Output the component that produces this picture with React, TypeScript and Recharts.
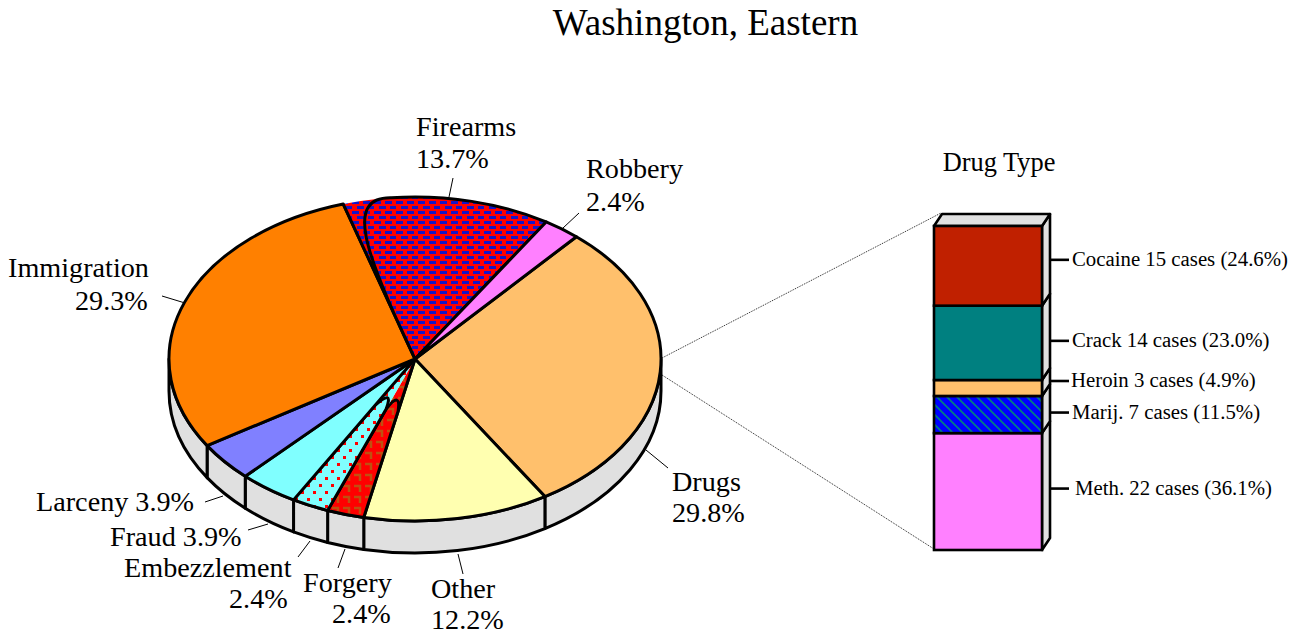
import { PieChart, Pie, BarChart, Bar, XAxis, YAxis } from "recharts";

const W = 1298;
const H = 633;
const SERIF = "'Liberation Serif', serif";

// offense breakdown in cases (205 total), clockwise from the 49 degree mark
const offenses = ["Drugs", "Other", "Forgery", "Embezzlement", "Fraud", "Larceny", "Immigration", "Firearms", "Robbery"];
const offenseCases = [61, 25, 5, 5, 8, 8, 60, 28, 5];
const offenseFill = ["#ffc06c", "#ffffb0", "url(#pForgery)", "url(#pEmbezzle)", "#80ffff", "#8080ff", "#ff8000", "url(#pFirearms)", "#ff80ff"];

// drug stack, bottom to top
const drugs = ["Meth.", "Marij.", "Heroin", "Crack", "Cocaine"];
const drugCases = [22, 7, 3, 14, 15];
const drugPct = ["36.1", "11.5", "4.9", "23.0", "24.6"];
const drugFill = ["#ff80ff", "url(#pMarij)", "#ffc06c", "#008080", "#c02000"];

const pieData = offenses.map((name, i) => ({ name, value: offenseCases[i], fill: offenseFill[i] }));
const barRow = [Object.fromEntries(drugs.map((d, i) => [d, drugCases[i]]))];

const RX = 246;
const RY = 162;
const DEPTH = 32;
const BAR_DX = 8;
const BAR_DY = 12;

// where each pie label sits: text lines [string, x, baseline], then the leader line
const pieLabels: Record<string, { lines: [string, number, number][]; lead: number[] }> = {
  Drugs: { lines: [["Drugs", 672, 491], ["29.8%", 672, 522]], lead: [646, 450, 668, 468] },
  Other: { lines: [["Other", 431, 598], ["12.2%", 431, 629]], lead: [458, 554, 463, 574] },
  Forgery: { lines: [["Forgery", 303, 592], ["2.4%", 332, 623]], lead: [345, 549, 338, 568] },
  Embezzlement: { lines: [["Embezzlement", 124, 577], ["2.4%", 229, 608]], lead: [310, 541, 298, 557] },
  Fraud: { lines: [["Fraud 3.9%", 110, 546]], lead: [268, 524, 248, 530] },
  Larceny: { lines: [["Larceny 3.9%", 36, 511]], lead: [223, 496, 205, 502] },
  Immigration: { lines: [["Immigration", 8, 277], ["29.3%", 75, 310]], lead: [185, 303, 162, 296] },
  Firearms: { lines: [["Firearms", 416, 136], ["13.7%", 416, 168]], lead: [449, 197, 453, 178] },
  Robbery: { lines: [["Robbery", 586, 178], ["2.4%", 586, 211]], lead: [563, 228, 579, 213] },
};

// the bar tick labels don't quite follow the segment centers
const barLabelShift = [3, 4, -1, 4, 0];
const barLabelX = [1075, 1072, 1071, 1072, 1072];

const pt = (cx: number, cy: number, deg: number, r = 1): [number, number] => {
  const a = (deg * Math.PI) / 180;
  return [cx + r * RX * Math.cos(a), cy - r * RY * Math.sin(a)];
};

const arcTo = (p: number[], sweep: number, large = 0) =>
  `A${RX} ${RY} 0 ${large} ${sweep} ${p[0]} ${p[1]}`;

function PieSlice(props: any) {
  const { cx, cy, startAngle: s, endAngle: e, fill, name, payload } = props;
  const label = name ?? payload?.name;
  const start = pt(cx, cy, s);
  const end = pt(cx, cy, e);
  const large = Math.abs(s - e) > 180 ? 1 : 0;
  const wedge = `M${cx} ${cy}L${start[0]} ${start[1]}${arcTo(end, 1, large)}Z`;

  // side wall only shows on the lower half
  const ws = Math.min(s, 0);
  const we = Math.max(e, -180);
  let wall = null;
  if (ws > we) {
    const a = pt(cx, cy, ws);
    const b = pt(cx, cy, we);
    wall = (
      <path
        d={`M${a[0]} ${a[1]}${arcTo(b, 1)}L${b[0]} ${b[1] + DEPTH}${arcTo([a[0], a[1] + DEPTH], 0)}Z`}
        fill="#e0e0e0"
        stroke="#000"
        strokeWidth={3}
        strokeLinejoin="round"
      />
    );
  }

  // the source drew a few slices with odd rounded outlines, keep those
  let outline = wedge;
  if (label === "Firearms") {
    const turn = pt(cx, cy, s - 11.4);
    const c1 = pt(cx, cy, s - 1, 1.04);
    const c2 = pt(cx, cy, s + 0.5, 0.7);
    outline =
      `M${cx} ${cy}L${start[0]} ${start[1]}` +
      `M${cx} ${cy}L${end[0]} ${end[1]}${arcTo(turn, 0)}` +
      `C${c1[0]} ${c1[1]} ${c2[0]} ${c2[1]} ${cx} ${cy}`;
  } else if (label === "Forgery" || label === "Embezzlement") {
    const p1 = pt(cx, cy, e, 0.33);
    const p2 = pt(cx, cy, s, 0.33);
    const ctrl = pt(cx, cy, (s + e) / 2, 0.2);
    const first = label === "Forgery" ? `M${cx} ${cy}L${start[0]} ${start[1]}` : `M${p2[0]} ${p2[1]}L${start[0]} ${start[1]}`;
    outline = `${first}${arcTo(end, 1)}L${p1[0]} ${p1[1]}Q${ctrl[0]} ${ctrl[1]} ${p2[0]} ${p2[1]}`;
  }

  return (
    <g>
      {wall}
      <path d={wedge} fill={fill} stroke="none" />
      <path d={outline} fill="none" stroke="#000" strokeWidth={3} strokeLinejoin="round" />
    </g>
  );
}

function PieLabel(props: any) {
  const spec = pieLabels[props.name ?? props.payload?.name];
  if (!spec) return null;
  const [x1, y1, x2, y2] = spec.lead;
  return (
    <g>
      <line x1={x1} y1={y1} x2={x2} y2={y2} stroke="#000" strokeWidth={1} />
      {spec.lines.map(([t, x, y]) => (
        <text key={t} x={x} y={y} fontFamily={SERIF} fontSize={28.2} fill="#000" textAnchor="start">
          {t}
        </text>
      ))}
    </g>
  );
}

function StackSegment(props: any) {
  const { x, y, width, height, fill, idx } = props;
  const r = x + width;
  const b = y + height;
  const isTop = idx === drugs.length - 1;
  const tickY = y + height / 2 - BAR_DY / 2 + barLabelShift[idx];
  return (
    <g>
      <path
        d={`M${r} ${y}L${r + BAR_DX} ${y - BAR_DY}L${r + BAR_DX} ${b - BAR_DY}L${r} ${b}Z`}
        fill="#e0e0e0"
        stroke="#000"
        strokeWidth={2.6}
        strokeLinejoin="round"
      />
      {isTop && (
        <path
          d={`M${x} ${y}L${x + BAR_DX} ${y - BAR_DY}L${r + BAR_DX} ${y - BAR_DY}L${r} ${y}Z`}
          fill="#e0e0e0"
          stroke="#000"
          strokeWidth={2.6}
          strokeLinejoin="round"
        />
      )}
      <rect x={x} y={y} width={width} height={height} fill={fill} stroke="#000" strokeWidth={2.6} />
      <line x1={r + BAR_DX} y1={tickY} x2={r + BAR_DX + 19} y2={tickY} stroke="#000" strokeWidth={2.6} />
      <text x={barLabelX[idx]} y={tickY + 6} fontFamily={SERIF} fontSize={20.8} fill="#000">
        {`${drugs[idx]} ${drugCases[idx]} cases (${drugPct[idx]}%)`}
      </text>
    </g>
  );
}

export default function App() {
  return (
    <div style={{ position: "absolute", left: 0, top: 0, width: W, height: H, background: "#fff" }}>
      <svg width={W} height={H} style={{ position: "absolute", left: 0, top: 0 }}>
        <defs>
          <pattern id="pFirearms" patternUnits="userSpaceOnUse" width={22} height={10}>
            <rect width={22} height={10} fill="#ff0000" />
            <rect x={0} y={1} width={7} height={3} fill="#1414c8" />
            <rect x={11} y={1} width={7} height={3} fill="#1414c8" />
            <rect x={5} y={6} width={7} height={3} fill="#1414c8" />
            <rect x={16} y={6} width={6} height={3} fill="#1414c8" />
          </pattern>
          <pattern id="pForgery" patternUnits="userSpaceOnUse" width={11} height={11}>
            <rect width={11} height={11} fill="#ff0000" />
            <path d="M2 2H8V8" fill="none" stroke="#c05010" strokeWidth={2.5} />
          </pattern>
          <pattern id="pEmbezzle" patternUnits="userSpaceOnUse" width={12} height={14}>
            <rect width={12} height={14} fill="#80ffff" />
            <rect x={1} y={1} width={3} height={3} fill="#ff0000" />
            <rect x={7} y={8} width={3} height={3} fill="#ff0000" />
          </pattern>
          <pattern id="pMarij" patternUnits="userSpaceOnUse" width={10} height={10}>
            <rect width={10} height={10} fill="#0000ff" />
            <path d="M-2 -2L12 12M-2 8L2 12M8 -2L12 2" stroke="#008080" strokeWidth={1.6} />
          </pattern>
        </defs>
        <text x={705.5} y={35} textAnchor="middle" fontFamily={SERIF} fontSize={37} fill="#000">
          Washington, Eastern
        </text>
        <text x={999} y={171} textAnchor="middle" fontFamily={SERIF} fontSize={26.4} fill="#000">
          Drug Type
        </text>
        <line x1={662} y1={358} x2={941} y2={213} stroke="#222" strokeWidth={1} strokeDasharray="1 1" />
        <line x1={662} y1={375} x2={934} y2={549} stroke="#222" strokeWidth={1} strokeDasharray="1 1" />
      </svg>

      <div style={{ position: "absolute", left: 0, top: 0 }}>
        <PieChart width={W} height={H} margin={{ top: 0, right: 0, bottom: 0, left: 0 }}>
          <Pie
            data={pieData}
            dataKey="value"
            nameKey="name"
            cx={415}
            cy={359}
            innerRadius={0}
            outerRadius={RX}
            startAngle={49}
            endAngle={-311}
            stroke="none"
            shape={PieSlice}
            label={PieLabel}
            labelLine={false}
            isAnimationActive={false}
          />
        </PieChart>
      </div>

      <div style={{ position: "absolute", left: 0, top: 0 }}>
        <BarChart
          width={W}
          height={H}
          data={barRow}
          margin={{ top: 226, right: W - 1142, bottom: H - 550, left: 834 }}
        >
          <XAxis hide type="category" />
          <YAxis hide type="number" domain={[0, 61]} />
          {drugs.map((d, i) => (
            <Bar
              key={d}
              dataKey={d}
              stackId="drug"
              fill={drugFill[i]}
              barSize={108}
              isAnimationActive={false}
              shape={(p: any) => <StackSegment {...p} idx={i} />}
            />
          ))}
        </BarChart>
      </div>
    </div>
  );
}
